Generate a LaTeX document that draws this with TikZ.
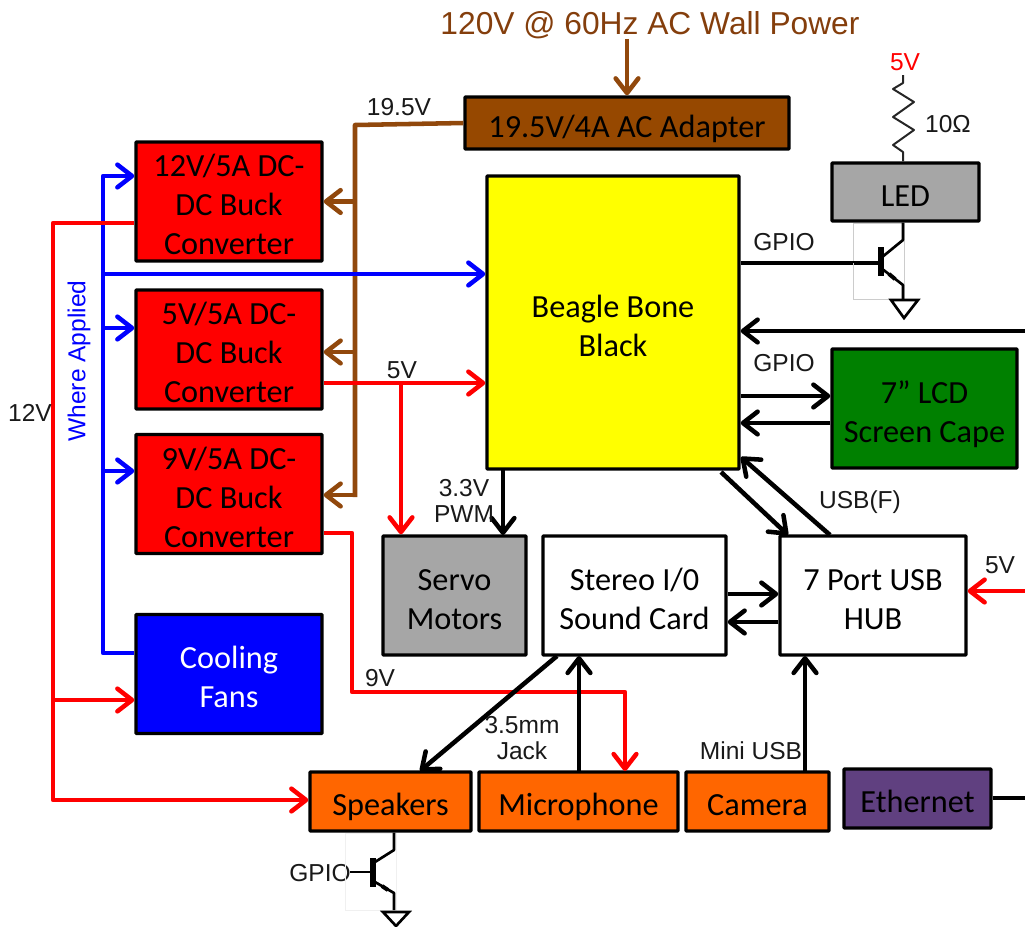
\documentclass[tikz,border=0pt]{standalone}
\usepackage{fontspec}
\setmainfont{Carlito}
\newfontfamily\arial{Liberation Sans}
\usetikzlibrary{arrows.meta}
\definecolor{brn}{RGB}{145,72,12}
\definecolor{brntext}{RGB}{132,62,12}
\definecolor{wirered}{RGB}{255,0,0}
\definecolor{blu}{RGB}{0,0,255}
\definecolor{grn}{RGB}{0,128,0}
\definecolor{org}{RGB}{255,102,0}
\definecolor{pur}{RGB}{96,64,128}
\definecolor{gry}{RGB}{166,166,166}
\definecolor{brnbox}{RGB}{150,72,0}
\definecolor{yel}{RGB}{255,255,0}
\newcommand\toprow{\rule{0pt}{21.5pt}}
\tikzset{
  sz/.style 2 args={minimum width=#1*0.75pt-1.5pt,minimum height=#2*0.75pt-1.5pt},
  box/.style={draw=black,line width=2.5pt,inner sep=0pt,text=black,font=\fontsize{24.2}{29.3}\selectfont,rounded corners=0.5pt},
  many/.style={box,align=center},
  one/.style={box,text height=21.5pt,text depth=0.5pt},
  wire/.style={line width=3.4pt,line join=round},
  tip/.style={wire,-{Straight Barb[length=11pt,width=17pt,line width=3.4pt,round]}},
  lab/.style={font=\arial\fontsize{18.4}{20}\selectfont,text=black!90,inner sep=0pt,align=center},
  thin/.style={line width=2pt,black,line join=round},
}
\begin{document}
\begin{tikzpicture}[x=0.75pt,y=-0.75pt]
\useasboundingbox (0,0) rectangle (1025,926);
% boxes
\node[many,fill=wirered,sz={188}{121}] (b12) at (229,201.5) {\toprow 12V/5A DC-\\DC Buck\\Converter};
\node[many,fill=wirered,sz={188}{121}] (b5) at (229,349.5) {\toprow 5V/5A DC-\\DC Buck\\Converter};
\node[many,fill=wirered,sz={188}{121}] (b9) at (229,494) {\toprow 9V/5A DC-\\DC Buck\\Converter};
\node[many,fill=blu,text=white,sz={188}{121}] (fan) at (229,674) {\toprow Cooling\\Fans};
\node[one,fill=brnbox,sz={326}{54}] (adp) at (627,123) {19.5V/4A AC Adapter};
\node[many,fill=yel,sz={254}{295}] (bbb) at (613,322.5) {\toprow Beagle Bone\\Black};
\node[one,fill=gry,sz={149}{60}] (led) at (905.5,192) {LED};
\node[many,fill=grn,sz={187}{121}] (lcd) at (924.5,408.5) {\toprow 7” LCD\\Screen Ca\smash{p}e};
\node[many,fill=gry,sz={145}{121}] (servo) at (454.5,595.5) {\toprow Servo\\Motors};
\node[many,fill=white,sz={185}{121}] (snd) at (634.5,595.5) {\toprow Stereo I/0\\Sound Card};
\node[many,fill=white,sz={188}{121}] (hub) at (873,595.5) {\toprow 7 Port USB\\HUB};
\node[one,fill=org,sz={163}{61}] (spk) at (390.5,801.5) {Speakers};
\node[one,fill=org,sz={201}{61}] (mic) at (578.5,801.5) {Microphone};
\node[one,fill=org,sz={145}{61}] (cam) at (757.5,801.5) {Camera};
\node[one,fill=pur,sz={149}{61}] (eth) at (917.5,798.5) {Ethernet};
% free ends
\coordinate (bus) at (355,125);
\coordinate (bl) at (103,653);
\coordinate (rd) at (53,223);
\coordinate (j5) at (401,383);
\coordinate (e1) at (1025,331);
\coordinate (e2) at (1025,591);
\coordinate (e3) at (1025,798);
\coordinate (b1) at (878,263);
% brown
\node[font=\arial\fontsize{23.8}{26}\selectfont,text=brntext,inner sep=0pt] (wall) at (650,25) {120V @ 60Hz AC Wall Power};
\draw[tip,brn] (wall.south -| adp) -- (adp.north);
\draw[wire,brn] (adp.west) -- (bus) -- (355,497);
\draw[tip,brn] (bus |- b12) -- (b12.east);
\draw[tip,brn] (355,352) -- (b5.east |- 0,352);
\draw[tip,brn] (355,495) -- (b9.east |- 0,495);
% blue
\draw[tip,blu] (fan.west |- bl) -- (bl) -- (bl |- 0,176) -- (b12.west |- 0,176);
\draw[tip,blu] (103,328) -- (b5.west |- 0,328);
\draw[tip,blu] (103,471) -- (b9.west |- 0,471);
\draw[tip,blu] (103,274) -- (bbb.west |- 0,274);
% red
\draw[tip,wirered] (b12.west |- rd) -- (rd) -- (53,800) -- (spk.west |- 0,800);
\draw[tip,wirered] (53,700) -- (fan.west |- 0,700);
\draw[tip,wirered] (b5.east |- j5) -- (bbb.west |- j5);
\draw[tip,wirered] (j5) -- (j5 |- servo.north);
\draw[tip,wirered] (b9.east |- 0,533) -- (352,533) -- (352,692) -- (625,692) -- (625,771);
\draw[tip,wirered] (e2) -- (hub.east |- e2);
% black
\draw[wire] (bbb.east |- b1) -- (b1);
\draw[tip] (e1) -- (bbb.east |- e1);
\draw[tip] (bbb.east |- 0,396) -- (lcd.west |- 0,396);
\draw[tip] (lcd.west |- 0,423) -- (bbb.east |- 0,423);
\draw[tip] (503,470) -- (503,535);
\draw[tip] (721,472) -- (788,535);
\draw[tip] (830,535) -- (741,457);
\draw[tip] (snd.east |- 0,594) -- (hub.west |- 0,594);
\draw[tip] (hub.west |- 0,622) -- (snd.east |- 0,622);
\draw[tip] (557,656) -- (420,771);
\draw[tip] (579,771) -- (579,656);
\draw[tip] (805,771) -- (805,656);
\draw[wire] (eth.east |- e3) -- (e3);
% labels
\node[lab] (l1) at (399,107) {19.5V};
\node[lab] (l2) at (784,242) {GPIO};
\node[lab] (l3) at (402,370) {5V};
\node[lab] (l4) at (30,413) {12V};
\node[lab,text=blu,rotate=90] (l5) at (79,361) {Where Applied};
\node[lab] (l6) at (784,363) {GPIO};
\node[lab] (l7) at (464,501) {3.3V\\PWM};
\node[lab] (l8) at (860,502) {USB(F)};
\node[lab] (l9) at (1000,565) {5V};
\node[lab] (l10) at (380,678) {9V};
\node[lab] (l11) at (522,738) {3.5mm\\Jack};
\node[lab] (l12) at (751,751) {Mini USB};
\node[lab] (l13) at (320,873) {GPIO};
\node[lab] (l14) at (948,124) {10Ω};
\node[lab,text=wirered] (l15) at (905,62) {5V};
% resistor
\draw[line width=1.5pt,black!85,line join=round] (903,75) -- (903,83) -- (893,89) -- (914,102) -- (893,117) -- (914,130) -- (893,145) -- (903,152) -- (led.north -| 903,0);
% LED transistor
\draw[draw=black!20,line width=0.5pt] (853,223) rectangle (904,299);
\draw[thin] (853,262) -- (878,262);
\draw[line width=4.5pt] (881,247) -- (881,276);
\draw[thin] (881,258) -- (903,240) -- (led.south -| 903,0);
\draw[thin] (881,268) -- (903,285) -- (903,300);
\draw[line width=3pt] (889,274) -- (895,279);
\draw[line width=2pt,line join=miter] (891,300) -- (918,300) -- (904,318) -- cycle;
% speaker transistor
\draw[draw=black!6,line width=0.5pt] (345,833) rectangle (396,910);
\draw[thin] (350,872) -- (372,872);
\draw[line width=4.5pt] (373,858) -- (373,887);
\draw[thin] (375,862) -- (394,850) -- (spk.south -| 394,0);
\draw[thin] (375,882) -- (394,893) -- (394,910);
\draw[line width=3pt] (382,886) -- (388,890);
\draw[line width=2pt] (383,912) -- (409,912) -- (396,926) -- cycle;
\end{tikzpicture}
\end{document}
